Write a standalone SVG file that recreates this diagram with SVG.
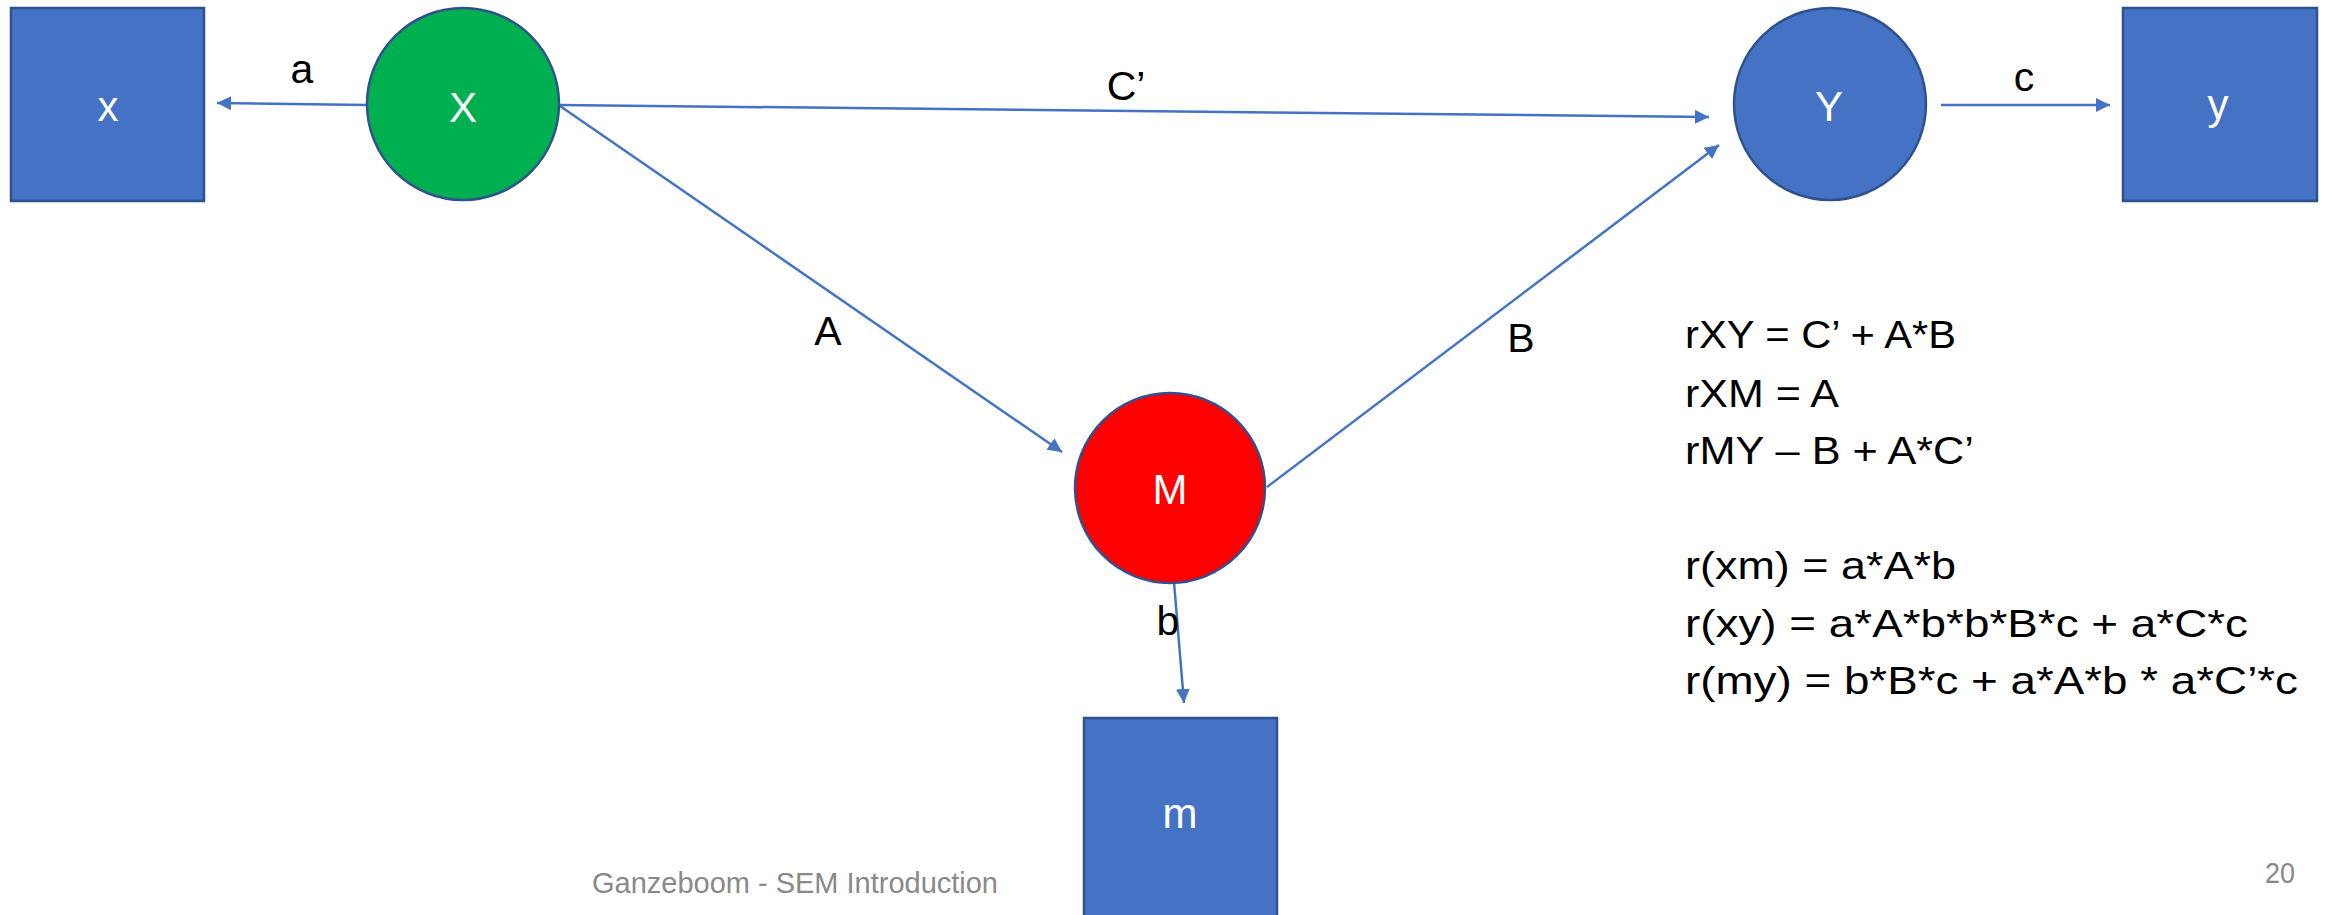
<svg xmlns="http://www.w3.org/2000/svg" width="2331" height="915" viewBox="0 0 2331 915">
<style>
.box{fill:#4472C4;stroke:#2F528F;stroke-width:2.5}
.nt{font-family:"Liberation Sans",Arial,sans-serif;font-size:42px;fill:#FFFFFF;text-anchor:middle}
.el{font-family:"Liberation Sans",Arial,sans-serif;font-size:41px;fill:#000000;text-anchor:middle}
.eq{font-family:"Liberation Sans",Arial,sans-serif;font-size:39px;fill:#000000}
.ft{font-family:"Liberation Sans",Arial,sans-serif;font-size:29px;fill:#898989}
.cn{stroke:#4472C4;stroke-width:2.5;fill:none;marker-end:url(#arr)}
</style>
<defs>
<marker id="arr" markerUnits="userSpaceOnUse" markerWidth="15" markerHeight="15" refX="14" refY="7" orient="auto">
<path d="M0,0 L14,7 L0,14 z" fill="#4472C4"/>
</marker>
</defs>
<rect width="2331" height="915" fill="#FFFFFF"/>
<g id="connectors">
<line class="cn" x1="367" y1="105" x2="217" y2="103"/>
<line class="cn" x1="560" y1="105" x2="1709" y2="117"/>
<line class="cn" x1="560" y1="106" x2="1062" y2="452"/>
<line class="cn" x1="1267" y1="487" x2="1719" y2="145"/>
<line class="cn" x1="1941" y1="105" x2="2110" y2="105"/>
<line class="cn" x1="1174" y1="582" x2="1184" y2="703"/>
<text class="el" x="302" y="83">a</text>
<text class="el" x="1126" y="100">C’</text>
<text class="el" x="828" y="345">A</text>
<text class="el" x="1521" y="352">B</text>
<text class="el" x="2024" y="91">c</text>
<text class="el" x="1168" y="635">b</text>
</g>
<g id="node-x">
<rect class="box" x="11" y="8" width="193" height="193"/>
<text class="nt" x="108" y="121">x</text>
</g>
<g id="node-X">
<circle cx="463" cy="104" r="96" fill="#00B050" stroke="#2F528F" stroke-width="2.5"/>
<text class="nt" x="463" y="122">X</text>
</g>
<g id="node-Y">
<circle cx="1830" cy="104" r="96" fill="#4472C4" stroke="#2F528F" stroke-width="2.5"/>
<text class="nt" x="1829" y="121">Y</text>
</g>
<g id="node-y">
<rect class="box" x="2123" y="8" width="194" height="193"/>
<text class="nt" x="2218" y="119">y</text>
</g>
<g id="node-M">
<circle cx="1170" cy="488" r="95" fill="#FF0000" stroke="#2F528F" stroke-width="2.5"/>
<text class="nt" x="1170" y="504">M</text>
</g>
<g id="node-m">
<rect class="box" x="1084" y="718" width="193" height="200"/>
<text class="nt" x="1180" y="828">m</text>
</g>
<g id="equations">
<text class="eq" x="1685" y="348" textLength="271" lengthAdjust="spacingAndGlyphs">rXY = C’ + A*B</text>
<text class="eq" x="1685" y="407" textLength="154" lengthAdjust="spacingAndGlyphs">rXM = A</text>
<text class="eq" x="1685" y="464" textLength="289" lengthAdjust="spacingAndGlyphs">rMY – B + A*C’</text>
<text class="eq" x="1685" y="579" textLength="271" lengthAdjust="spacingAndGlyphs">r(xm) = a*A*b</text>
<text class="eq" x="1685" y="637" textLength="563" lengthAdjust="spacingAndGlyphs">r(xy) = a*A*b*b*B*c + a*C*c</text>
<text class="eq" x="1685" y="694" textLength="613" lengthAdjust="spacingAndGlyphs">r(my) = b*B*c + a*A*b * a*C’*c</text>
</g>
<g id="footer">
<text class="ft" x="592" y="893" textLength="406" lengthAdjust="spacingAndGlyphs">Ganzeboom - SEM Introduction</text>
<text class="ft" x="2265" y="883" textLength="30" lengthAdjust="spacingAndGlyphs">20</text>
</g>
</svg>
